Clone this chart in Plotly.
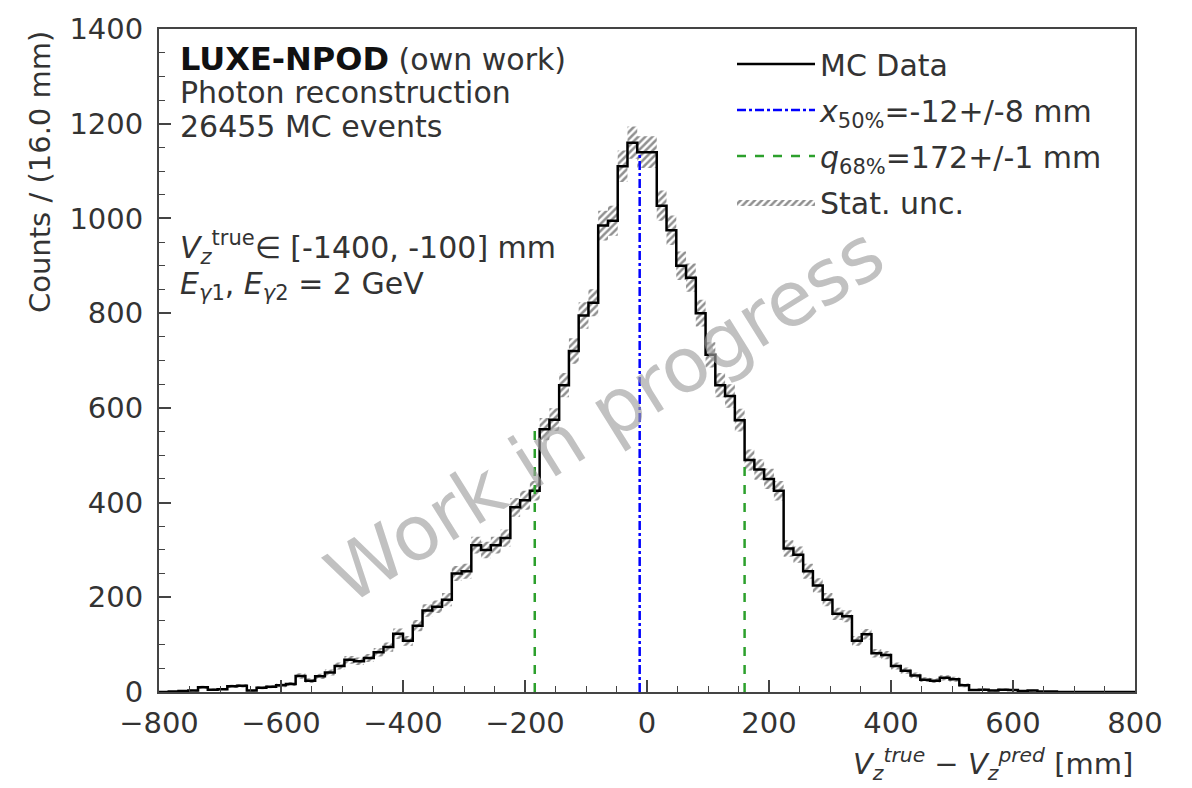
import numpy as np
import plotly.graph_objects as go

# ---------------- data ----------------
bin_low, bin_high, bin_width = -800, 800, 16
counts = [
    0, 1, 2, 3, 10, 5, 6, 12, 13, 3,
    9, 11, 14, 17, 34, 24, 33, 41, 55, 68,
    65, 72, 84, 95, 123, 108, 140, 172, 180, 195,
    250, 255, 310, 300, 310, 325, 390, 405, 425, 555,
    575, 648, 720, 795, 822, 985, 995, 1110, 1160, 1140,
    1140, 1027, 975, 900, 875, 800, 712, 648, 625, 574,
    490, 470, 450, 425, 303, 290, 255, 225, 195, 165,
    160, 108, 122, 82, 78, 55, 45, 35, 26, 24,
    30, 27, 14, 4, 5, 3, 5, 4, 2, 3,
    1, 1, 0, 0, 0, 0, 0, 0, 0, 0,
]
median_val, median_err = -12, 8
q68_val, q68_err = 172, 1
n_events = 26455

x_ticks = [-800, -600, -400, -200, 0, 200, 400, 600, 800]
y_ticks = [0, 200, 400, 600, 800, 1000, 1200, 1400]

# ---------------- derived ----------------
edges = np.arange(bin_low, bin_high + bin_width, bin_width)
cnt = np.array(counts, dtype=float)
y_step = np.append(cnt, cnt[-1])
err = np.sqrt(cnt)
up = np.append(cnt + err, (cnt + err)[-1])
lo = np.append(cnt - err, (cnt - err)[-1])


def height_at(x):
    i = int(np.searchsorted(edges, x))
    i = min(max(i, 0), len(cnt) - 1)
    return cnt[i]


q_lo = median_val - q68_val
q_hi = median_val + q68_val

FONT = "DejaVu Sans"
TXT = "#333333"
FS = 30

fig = go.Figure()

# statistical uncertainty band (hatched)
fig.add_trace(go.Scatter(
    x=edges, y=lo, mode="lines", line=dict(width=0, shape="hv"),
    showlegend=False, hoverinfo="skip", legendgroup="g4"))
fig.add_trace(go.Scatter(
    x=edges, y=up, mode="lines", line=dict(width=0, shape="hv", color="#222222"),
    fill="tonexty", fillcolor="rgba(0,0,0,0)",
    fillpattern=dict(shape="/", fgcolor="#222222", bgcolor="rgba(0,0,0,0)",
                     size=5, solidity=0.5),
    name="Stat. unc.", legendrank=4, legendgroup="g4"))

# MC data step histogram
fig.add_trace(go.Scatter(
    x=edges, y=y_step, mode="lines",
    line=dict(color="black", width=2.5, shape="hv"),
    name="MC Data", legendrank=1, legendgroup="g1"))

# median line
fig.add_trace(go.Scatter(
    x=[median_val, median_val], y=[0, height_at(median_val)], mode="lines",
    line=dict(color="#0000ff", width=2.5, dash="dashdot"),
    name=f"<i>x</i><sub>50%</sub>={median_val}+/-{median_err} mm",
    legendrank=2, legendgroup="g2"))

# 68% quantile lines
fig.add_trace(go.Scatter(
    x=[q_lo, q_lo, None, q_hi, q_hi],
    y=[0, height_at(q_lo), None, 0, height_at(q_hi)], mode="lines",
    line=dict(color="#2ca02c", width=2.5, dash="dash"),
    name=f"<i>q</i><sub>68%</sub>={q68_val}+/-{q68_err} mm",
    legendrank=3, legendgroup="g3"))

axis_common = dict(
    showline=True, linecolor="#444444", linewidth=2, mirror=True,
    ticks="inside", ticklen=12, tickwidth=1.5, tickcolor="#444444",
    showgrid=False, zeroline=False,
    tickfont=dict(family=FONT, size=29, color=TXT),
    minor=dict(ticks="inside", ticklen=6, tickwidth=1, tickcolor="#444444", dtick=50),
)

fig.update_xaxes(range=[bin_low, bin_high], tickvals=x_ticks,
                 ticktext=[f"\u2212{abs(v)}" if v < 0 else str(v) for v in x_ticks],
                 ticklabelstandoff=4, **axis_common)
fig.update_yaxes(range=[0, 1400], tickvals=y_ticks,
                 ticklabelstandoff=8, **axis_common)


def py(pix):
    # convert a pixel row to paper y
    return (692 - pix) / 670


def px(pix):
    return (pix - 159) / 976


ann = []
ann.append(dict(x=px(178), y=py(52), xref="paper", yref="paper", xanchor="left", yanchor="middle",
                text="<b><span style='font-size:32px'>LUXE-NPOD</span></b> <span style='color:#333333'>(own work)</span>",
                showarrow=False, font=dict(family=FONT, size=FS, color="#111111")))
ann.append(dict(x=px(178), y=py(86), xref="paper", yref="paper", xanchor="left", yanchor="middle",
                text="Photon reconstruction", showarrow=False,
                font=dict(family=FONT, size=FS, color=TXT)))
ann.append(dict(x=px(178), y=py(121), xref="paper", yref="paper", xanchor="left", yanchor="middle",
                text=f"{n_events} MC events", showarrow=False,
                font=dict(family=FONT, size=FS, color=TXT)))
ann.append(dict(x=px(178), y=py(243), xref="paper", yref="paper", xanchor="left", yanchor="middle",
                text="<i>V</i><sub><i>z</i></sub><sup>true</sup>\u2208 [-1400, -100] mm", showarrow=False,
                font=dict(family=FONT, size=FS, color=TXT)))
ann.append(dict(x=px(178), y=py(281), xref="paper", yref="paper", xanchor="left", yanchor="middle",
                text="<i>E</i><sub><i>\u03b3</i>1</sub>, <i>E</i><sub><i>\u03b3</i>2</sub> = 2 GeV", showarrow=False,
                font=dict(family=FONT, size=FS, color=TXT)))
# axis titles
ann.append(dict(x=1, y=py(765), xref="paper", yref="paper", xanchor="right", yanchor="middle",
                text="<i>V</i><sub><i>z</i></sub><sup><i>true</i></sup> \u2212 <i>V</i><sub><i>z</i></sub><sup><i>pred</i></sup> [mm]",
                showarrow=False, font=dict(family=FONT, size=29, color=TXT)))
ann.append(dict(x=(40 - 159) / 976, y=1.0, xref="paper", yref="paper", xanchor="center", yanchor="top",
                text="Counts / (16.0 mm)", textangle=-90, showarrow=False,
                font=dict(family=FONT, size=29, color=TXT)))
# watermark
ann.append(dict(x=px(605), y=py(412), xref="paper", yref="paper", xanchor="center", yanchor="middle",
                text="Work in progress", textangle=-32, showarrow=False,
                font=dict(family=FONT, size=76, color="rgba(160,160,160,0.65)")))

fig.update_layout(
    width=1192, height=788,
    margin=dict(l=159, r=57, t=22, b=96),
    paper_bgcolor="white", plot_bgcolor="white",
    font=dict(family=FONT, size=FS, color=TXT),
    showlegend=True,
    legend=dict(x=px(732), y=py(31), xanchor="left", yanchor="top",
                bgcolor="rgba(0,0,0,0)", borderwidth=0,
                itemwidth=78, tracegroupgap=4,
                font=dict(family=FONT, size=FS, color=TXT)),
    annotations=ann,
)

fig.write_html("out.html")
